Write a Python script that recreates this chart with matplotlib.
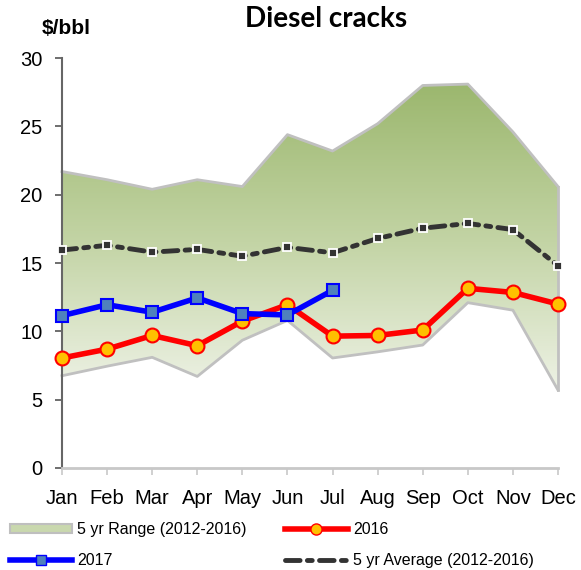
import numpy as np
import matplotlib.pyplot as plt
from matplotlib.patches import Patch
from matplotlib.lines import Line2D
from matplotlib.colors import LinearSegmentedColormap

months = ['Jan', 'Feb', 'Mar', 'Apr', 'May', 'Jun',
          'Jul', 'Aug', 'Sep', 'Oct', 'Nov', 'Dec']

range_high = [21.7, 21.1, 20.4, 21.1, 20.6, 24.4, 23.2, 25.2, 28.0, 28.1, 24.6, 20.6]
range_low = [6.75, 7.45, 8.1, 6.7, 9.35, 10.8, 8.05, 8.5, 9.0, 12.1, 11.55, 5.7]
avg_5yr = [15.95, 16.3, 15.8, 16.0, 15.5, 16.15, 15.75, 16.8, 17.55, 17.9, 17.45, 14.8]
y2016 = [8.05, 8.7, 9.7, 8.95, 10.75, 11.95, 9.65, 9.7, 10.1, 13.15, 12.85, 12.0]
y2017 = [11.15, 11.95, 11.4, 12.45, 11.3, 11.2, 13.0]

plt.rcParams['font.family'] = ['Liberation Sans', 'DejaVu Sans']

fig = plt.figure(figsize=(5.81, 5.70), dpi=100)
ax = fig.add_axes([0.1067, 0.179, 0.8537, 0.719])

x = np.arange(len(months))

# 5-yr range with vertical gradient
poly = ax.fill_between(x, range_low, range_high, facecolor='none',
                       edgecolor='none')
cmap = LinearSegmentedColormap.from_list('rng', ['#f2f5ec', '#c3d4a5', '#9ab66c'])
grad = np.linspace(0, 1, 256).reshape(-1, 1)
img = ax.imshow(grad, cmap=cmap, aspect='auto', origin='lower',
                extent=[0, 11, 4.5, 28.5], zorder=1)
img.set_clip_path(poly.get_paths()[0], transform=ax.transData)
ax.plot(x, range_high, color='#c0c0c0', lw=2, zorder=2, clip_on=False)
ax.plot(x, range_low, color='#c0c0c0', lw=2, zorder=2, clip_on=False)
ax.plot([11, 11], [range_low[-1], range_high[-1]], color='#c0c0c0', lw=2,
        zorder=2, clip_on=False)

# 5-yr average
ax.plot(x, avg_5yr, color='#333333', lw=3.5, dashes=(3, 1.5, 1, 1.5),
        dash_capstyle='round', marker='s', ms=6, mfc='#333333', mec='white',
        mew=1.3, zorder=3, clip_on=False)

# 2016
ax.plot(x, y2016, color='#ff0000', lw=4, marker='o', ms=10,
        mfc='#ffc000', mec='#ff0000', mew=1.5, zorder=4, clip_on=False)

# 2017
ax.plot(x[:len(y2017)], y2017, color='#0000ff', lw=4, marker='s', ms=9,
        mfc='#4f81bd', mec='#0000ff', mew=1.5, zorder=5, clip_on=False)

ax.set_xlim(0, 11)
ax.set_ylim(0, 30)
ax.set_yticks(range(0, 31, 5))
ax.set_xticks(x)
ax.set_xticklabels(months)
ax.tick_params(axis='both', labelsize=14.5, colors='#000000')
ax.tick_params(axis='y', color='#555555', length=5, width=1.2, pad=9)
ax.tick_params(axis='x', color='#c8c8c8', length=5, width=1.2, pad=10)
for s in ['top', 'right']:
    ax.spines[s].set_visible(False)
ax.spines['left'].set_color('#666666')
ax.spines['left'].set_linewidth(1.5)
ax.spines['bottom'].set_color('#c8c8c8')
ax.spines['bottom'].set_linewidth(2)

fig.text(0.561, 0.966, 'Diesel cracks', ha='center', va='center',
         fontsize=20, fontweight='bold', family=['Lato', 'DejaVu Sans'])
fig.text(0.114, 0.950, '$/bbl', ha='center', va='center', fontsize=15,
         fontweight='bold')

handles = [
    Patch(facecolor='#c9d8ae', edgecolor='#bfbfbf', lw=1.5),
    Line2D([], [], color='#0000ff', lw=4, marker='s', ms=7,
           mfc='#4f81bd', mec='#0000ff'),
    Line2D([], [], color='#ff0000', lw=4, marker='o', ms=8,
           mfc='#ffc000', mec='#ff0000'),
    Line2D([], [], color='#333333', lw=3.5, dashes=(3, 1.5, 1, 1.5),
           dash_capstyle='round'),
]
labels = ['5 yr Range (2012-2016)', '2017', '2016', '5 yr Average (2012-2016)']
fig.legend(handles, labels, ncol=2, loc='lower left',
           bbox_to_anchor=(0.0, -0.014), frameon=False, fontsize=11.5,
           handlelength=3.9, handleheight=0.5, labelspacing=1.0,
           columnspacing=2.4, handletextpad=0.35, borderaxespad=0.2)

fig.savefig('out.png', dpi=100)
